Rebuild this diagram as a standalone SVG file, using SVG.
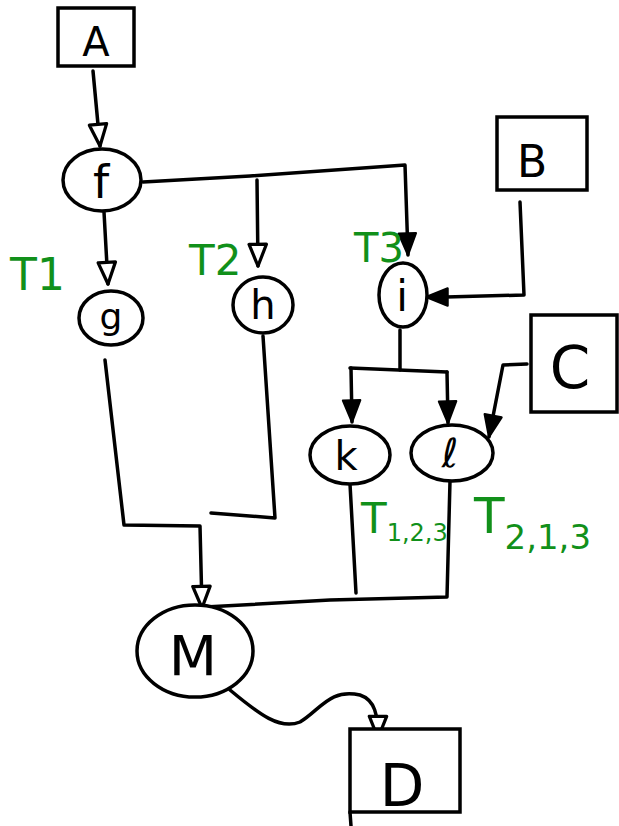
<svg xmlns="http://www.w3.org/2000/svg" width="619" height="826" viewBox="0 0 619 826">
<style>
.s{fill:none;stroke:#000;stroke-width:3.5;stroke-linecap:round;stroke-linejoin:round}
.n{fill:#fff;stroke:#000;stroke-width:3.5}
.t{font-family:"DejaVu Sans",sans-serif;fill:#000;text-anchor:middle}
.g{font-family:"DejaVu Sans",sans-serif;fill:#11901a}
</style>
<defs>
<marker id="ao" markerUnits="userSpaceOnUse" markerWidth="26" markerHeight="26" refX="22" refY="10" orient="auto" viewBox="0 0 24 20">
<path d="M2,2 L22,10 L2,18 z" fill="#fff" stroke="#000" stroke-width="3" stroke-linejoin="round"/>
</marker>
<marker id="af" markerUnits="userSpaceOnUse" markerWidth="26" markerHeight="26" refX="22" refY="10" orient="auto" viewBox="0 0 24 20">
<path d="M2,2 L22,10 L2,18 z" fill="#000" stroke="#000" stroke-width="2" stroke-linejoin="round"/>
</marker>
</defs>
<rect width="619" height="826" fill="#fff"/>
<g id="connectors" class="s">
<path d="M93,71 L100,146" marker-end="url(#ao)"/>
<path d="M143,182 L250,176 L405,165 L408,255" marker-end="url(#af)"/>
<path d="M257,180 L258,266" marker-end="url(#ao)"/>
<path d="M104,212 L108,284" marker-end="url(#ao)"/>
<path d="M520,202 L524,295 L446,297 L426,297" marker-end="url(#af)"/>
<path d="M527,364 L503,365 L489,437" marker-end="url(#af)"/>
<path d="M400,330 L400,370"/>
<path d="M350,368 L447,372"/>
<path d="M351,368 L352,422" marker-end="url(#af)"/>
<path d="M447,372 L448,423" marker-end="url(#af)"/>
<path d="M105,360 L124,525 L200,526 L202,608" marker-end="url(#ao)"/>
<path d="M263,336 L275,518 L211,513"/>
<path d="M350,484 L356,593"/>
<path d="M450,481 L447,597 L330,600 L205,607"/>
<path d="M230,690 C260,715 280,730 300,722 C320,710 330,688 360,695 C375,700 378,715 378,738" marker-end="url(#ao)"/>
</g>
<g id="A"><rect class="n" x="58" y="8" width="76" height="58"/><text class="t" x="96" y="56" font-size="40">A</text></g>
<g id="f"><ellipse class="n" cx="102" cy="180" rx="39" ry="31"/><text class="t" x="101" y="198" font-size="46">f</text></g>
<g id="g"><ellipse class="n" cx="111" cy="318" rx="32" ry="27"/><text class="t" x="111" y="329" font-size="36">g</text></g>
<g id="h"><ellipse class="n" cx="263" cy="305" rx="30" ry="28"/><text class="t" x="263" y="319" font-size="40">h</text></g>
<g id="i"><ellipse class="n" cx="403" cy="295" rx="24" ry="32"/><text class="t" x="402" y="311" font-size="42">i</text></g>
<g id="B"><rect class="n" x="497" y="117" width="90" height="73"/><text class="t" x="532" y="177" font-size="44">B</text></g>
<g id="C"><rect class="n" x="531" y="315" width="86" height="97"/><text class="t" x="570" y="388" font-size="58">C</text></g>
<g id="k"><ellipse class="n" cx="350" cy="455" rx="40" ry="29"/><text class="t" x="346" y="470" font-size="40">k</text></g>
<g id="l"><ellipse class="n" cx="452" cy="453" rx="41" ry="28"/><text class="t" x="450" y="467" font-size="40" font-style="italic">ℓ</text></g>
<g id="M"><ellipse class="n" cx="195" cy="651" rx="58" ry="46"/><text class="t" x="193" y="675" font-size="56">M</text></g>
<g id="D"><rect class="n" x="350" y="729" width="110" height="83"/><path class="s" d="M350,812 L351,826"/><text class="t" x="402" y="806" font-size="58">D</text></g>
<g id="labels">
<text class="g" x="10" y="290" font-size="44">T1</text>
<text class="g" x="189" y="275" font-size="42">T2</text>
<text class="g" x="354" y="262" font-size="40">T3</text>
<text class="g" x="361" y="533" font-size="42">T<tspan font-size="24" dy="8">1,2,3</tspan></text>
<text class="g" x="474" y="533" font-size="50">T<tspan font-size="34" dy="16">2,1,3</tspan></text>
</g>
</svg>
